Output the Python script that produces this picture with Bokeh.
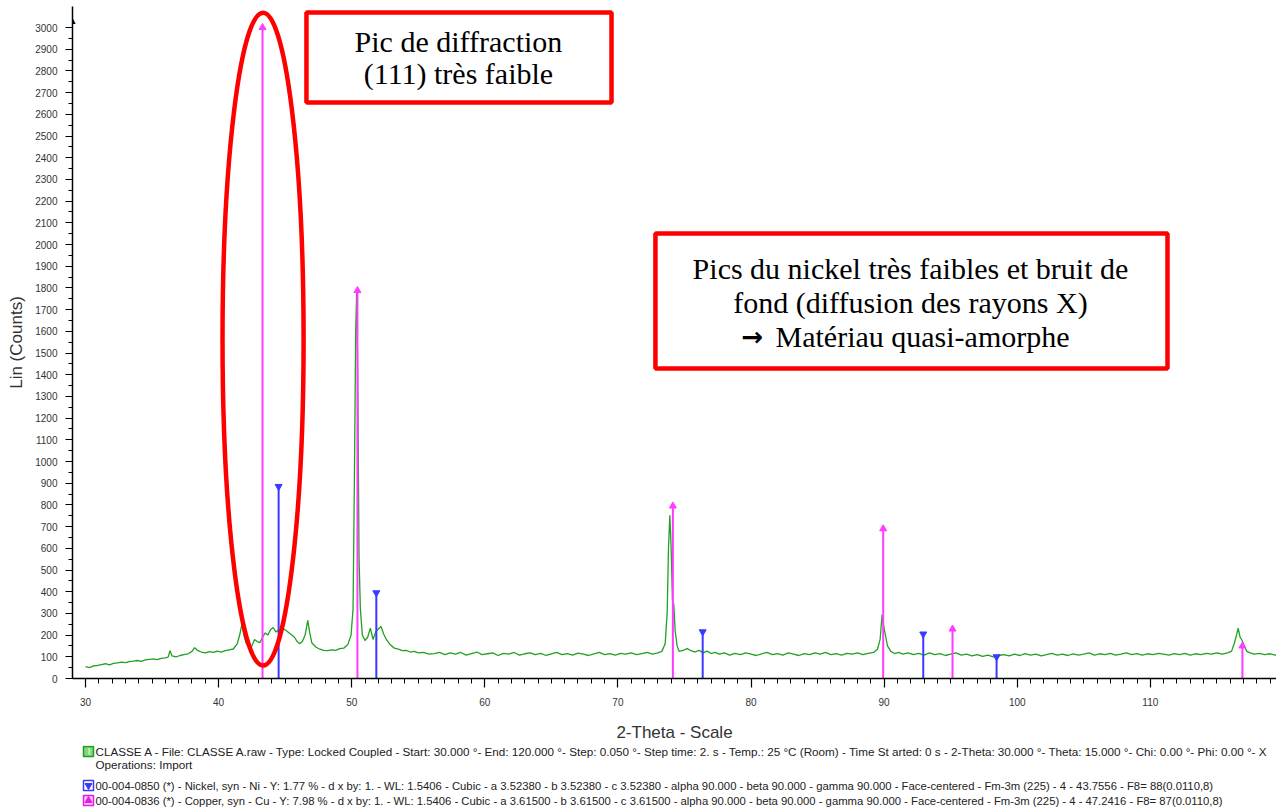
from bokeh.plotting import figure
from bokeh.layouts import column
from bokeh.models import Range1d, FixedTicker, Label
from bokeh.core.properties import value
from bokeh.embed import file_html
from bokeh.resources import INLINE

# ---------------- data ----------------
two_theta = [
    30.0, 30.3, 30.6, 30.9, 31.2, 31.5, 31.8, 32.1, 32.4, 32.7,
    33.0, 33.3, 33.6, 33.9, 34.2, 34.5, 34.8, 35.1, 35.4, 35.7,
    36.0, 36.2, 36.35, 36.5, 36.8, 37.1, 37.4, 37.7, 38.0, 38.2,
    38.4, 38.7, 39.0, 39.3, 39.6, 39.9, 40.2, 40.5, 40.8, 41.1,
    41.4, 41.6, 41.75, 41.9, 42.05, 42.3, 42.5, 42.7, 42.9, 43.1,
    43.3, 43.5, 43.7, 43.9, 44.1, 44.3, 44.5, 44.7, 44.9, 45.1,
    45.3, 45.5, 45.7, 45.9, 46.1, 46.3, 46.5, 46.7, 46.85, 47.0,
    47.3, 47.6, 47.9, 48.2, 48.5, 48.8, 49.1, 49.4, 49.7, 49.95,
    50.1, 50.2, 50.3, 50.38, 50.45, 50.55, 50.65, 50.8, 51.0, 51.2,
    51.4, 51.6, 51.8, 52.0, 52.2, 52.4, 52.6, 52.9, 53.2, 53.5,
    53.8, 54.1, 54.4, 54.7, 55.0, 55.4, 55.8, 56.2, 56.6, 57.0,
    57.4, 57.8, 58.2, 58.6, 59.0, 59.4, 59.8, 60.2, 60.6, 61.0,
    61.4, 61.8, 62.2, 62.6, 63.0, 63.4, 63.8, 64.2, 64.6, 65.0,
    65.4, 65.8, 66.2, 66.6, 67.0, 67.4, 67.8, 68.2, 68.6, 69.0,
    69.4, 69.8, 70.2, 70.6, 71.0, 71.4, 71.8, 72.2, 72.6, 73.0,
    73.3, 73.55, 73.7, 73.8, 73.9, 74.0, 74.1, 74.2, 74.3, 74.45,
    74.6, 74.9, 75.2, 75.5, 75.8, 76.1, 76.4, 76.7, 77.0, 77.3,
    77.6, 78.0, 78.4, 78.8, 79.2, 79.6, 80.0, 80.4, 80.8, 81.2,
    81.6, 82.0, 82.4, 82.8, 83.2, 83.6, 84.0, 84.4, 84.8, 85.2,
    85.6, 86.0, 86.4, 86.8, 87.2, 87.6, 88.0, 88.4, 88.8, 89.2,
    89.5, 89.7, 89.85, 90.0, 90.1, 90.25, 90.5, 90.8, 91.1, 91.4,
    91.8, 92.2, 92.6, 93.0, 93.4, 93.8, 94.2, 94.6, 95.0, 95.4,
    95.8, 96.2, 96.6, 97.0, 97.4, 97.8, 98.2, 98.6, 99.0, 99.4,
    99.8, 100.2, 100.6, 101.0, 101.4, 101.8, 102.2, 102.6, 103.0, 103.4,
    103.8, 104.2, 104.6, 105.0, 105.4, 105.8, 106.2, 106.6, 107.0, 107.4,
    107.8, 108.2, 108.6, 109.0, 109.4, 109.8, 110.2, 110.6, 111.0, 111.4,
    111.8, 112.2, 112.6, 113.0, 113.4, 113.8, 114.2, 114.6, 115.0, 115.4,
    115.8, 116.1, 116.3, 116.5, 116.6, 116.75, 116.9, 117.05, 117.25, 117.5,
    117.8, 118.2, 118.6, 119.0, 119.4, 119.8,
]
lin_counts = [
    55, 50, 58, 60, 64, 68, 63, 70, 72, 75,
    73, 78, 80, 83, 79, 86, 88, 90, 87, 93,
    95, 98, 128, 104, 100, 106, 110, 114, 125, 142,
    130, 122, 118, 124, 120, 126, 122, 128, 132, 136,
    160, 205, 252, 200, 165, 140, 150, 180, 170, 165,
    190, 210, 200, 225, 235, 215, 222, 218, 228, 220,
    210, 200, 190, 170, 160, 172, 200, 268, 210, 165,
    145, 135, 130, 128, 132, 130, 138, 140, 155, 200,
    320, 900, 1600, 1790, 1400, 560, 320, 200, 175, 190,
    232, 180, 215, 228, 240, 205, 180, 155, 140, 135,
    128, 130, 122, 125, 118, 120, 112, 115, 120, 110,
    118, 112, 120, 108, 115, 122, 110, 114, 118, 106,
    116, 112, 120, 108, 114, 118, 110, 116, 106, 113,
    120, 110, 115, 108, 117, 112, 106, 114, 120, 110,
    115, 108, 116, 112, 118, 110, 115, 120, 112, 118,
    125, 160, 300, 600, 752, 600, 360, 340, 220, 150,
    125, 130, 138, 128, 122, 130, 118, 126, 115, 120,
    112, 118, 108, 116, 110, 118, 112, 106, 114, 120,
    110, 115, 108, 118, 112, 106, 115, 110, 118, 112,
    120, 110, 115, 108, 116, 112, 118, 110, 116, 120,
    135, 180, 295, 230, 200, 150, 125, 115, 120, 112,
    118, 110, 116, 108, 118, 110, 115, 106, 112, 118,
    108, 112, 104, 110, 102, 108, 100, 106, 110, 104,
    112, 106, 115, 108, 112, 104, 110, 116, 108, 112,
    106, 114, 108, 112, 118, 108, 114, 110, 116, 108,
    112, 118, 110, 115, 108, 114, 110, 116, 112, 108,
    115, 110, 116, 108, 114, 110, 116, 112, 118, 112,
    118, 125, 160, 205, 232, 190, 175, 150, 125, 118,
    112, 116, 110, 114, 108, 112,
]
assert len(two_theta) == len(lin_counts)

# reference patterns (stick positions / heights)
copper_pos = [43.30, 50.43, 74.13, 89.93, 95.14, 116.92]
copper_height = [3000, 1788, 795, 690, 228, 150]
nickel_pos = [44.51, 51.85, 76.37, 92.94, 98.45]
nickel_height = [885, 395, 215, 205, 100]

x_major_ticks = [30, 40, 50, 60, 70, 80, 90, 100, 110, 120]
x_minor_ticks = list(range(29, 121))
y_major_ticks = list(range(0, 3001, 100))
y_minor_ticks = list(range(0, 3001, 50))

legend_scan = ("CLASSE A - File: CLASSE A.raw - Type: Locked Coupled - Start: 30.000 °- End: 120.000 °- "
               "Step: 0.050  °- Step time: 2. s - Temp.: 25 °C (Room) - Time St arted: 0 s - "
               "2-Theta: 30.000 °- Theta: 15.000 °-  Chi: 0.00 °- Phi: 0.00 °- X")
legend_ops = "Operations: Import"
legend_ni = ("00-004-0850 (*) - Nickel, syn - Ni - Y: 1.77 % - d x by: 1. - WL: 1.5406 - Cubic - "
             "a 3.52380 - b 3.52380 - c 3.52380 - alpha 90.000 - beta 90.000 - gamma 90.000 - "
             "Face-centered - Fm-3m (225) - 4 - 43.7556 - F8= 88(0.0110,8)")
legend_cu = ("00-004-0836 (*) - Copper, syn - Cu - Y: 7.98 % - d x by: 1. - WL: 1.5406 - Cubic - "
             "a 3.61500 - b 3.61500 - c 3.61500 - alpha 90.000 - beta 90.000 - gamma 90.000 - "
             "Face-centered - Fm-3m (225) - 4 - 47.2416 - F8= 87(0.0110,8)")

note1_lines = ["Pic de diffraction", "(111) très faible"]
note2_lines = ["Pics du nickel très faibles et bruit de",
               "fond (diffusion des rayons X)"]
note2_arrow = "→"
note2_last = "Matériau quasi-amorphe"

# ---------------- main figure ----------------
X_START, X_END = 29.023, 119.48
Y_START, Y_END = 0, 3097

GREEN = "#22a022"
CU = "#ff3cff"
NI = "#3a3aff"
RED = "#ff0000"
SERIF = value("Liberation Serif")

p = figure(width=1276, height=745, output_backend="svg", toolbar_location=None,
           x_range=Range1d(X_START, X_END), y_range=Range1d(Y_START, Y_END),
           min_border_left=72, min_border_right=0, min_border_top=6, min_border_bottom=67,
           background_fill_color="white", border_fill_color="white", outline_line_color=None,
           x_axis_label="2-Theta - Scale", y_axis_label="Lin (Counts)")
p.grid.visible = False

for ax in (p.xaxis[0], p.yaxis[0]):
    ax.axis_line_color = "black"
    ax.axis_line_width = 1.5
    ax.major_tick_line_color = "black"
    ax.minor_tick_line_color = "black"
    ax.major_tick_line_width = 1.2
    ax.minor_tick_line_width = 1
    ax.major_tick_in = 0
    ax.minor_tick_in = 0
    ax.major_label_text_font = "Liberation Sans"
    ax.major_label_text_font_size = "10px"
    ax.major_label_text_color = "#333333"
    ax.axis_label_text_font = "Liberation Sans"
    ax.axis_label_text_font_size = "17px"
    ax.axis_label_text_font_style = "normal"
    ax.axis_label_text_color = "#333333"

p.xaxis.ticker = FixedTicker(ticks=x_major_ticks, minor_ticks=x_minor_ticks)
p.yaxis.ticker = FixedTicker(ticks=y_major_ticks, minor_ticks=y_minor_ticks)
p.xaxis.major_tick_out = 9
p.xaxis.minor_tick_out = 5
p.yaxis.major_tick_out = 7
p.yaxis.minor_tick_out = 4
p.xaxis.major_label_standoff = 10
p.xaxis.axis_label_standoff = 14
p.yaxis.major_label_standoff = 8
p.yaxis.axis_label_standoff = 6

# measured scan
p.line(two_theta, lin_counts, line_color=GREEN, line_width=1.3)

# reference sticks
p.segment(x0=copper_pos, y0=[0] * len(copper_pos), x1=copper_pos, y1=copper_height,
          line_color=CU, line_width=2)
p.scatter(copper_pos, copper_height, marker="triangle", size=7, fill_color=CU, line_color=CU)
p.segment(x0=nickel_pos, y0=[0] * len(nickel_pos), x1=nickel_pos, y1=nickel_height,
          line_color=NI, line_width=2)
p.scatter(nickel_pos, nickel_height, marker="inverted_triangle", size=7, fill_color=NI, line_color=NI)

# y-axis arrow head
p.add_layout(Label(x=X_START, y=3005, text="▲", text_align="center", text_baseline="bottom",
                   text_font_size="9px", text_color="black", x_offset=0.5))

# red annotations
p.ellipse(x=[43.34], y=[1564], width=[6.09], height=[3009], fill_color=None,
          line_color=RED, line_width=4.5)
p.quad(left=[46.60], right=[69.52], bottom=[2654], top=[3069], fill_color="white",
       line_color=RED, line_width=4.5)
p.quad(left=[72.82], right=[111.29], bottom=[1429], top=[2051], fill_color="white",
       line_color=RED, line_width=4.5)
p.text(x=[58.02, 58.02], y=[2935, 2788], text=note1_lines, text_align="center",
       text_baseline="middle", text_font=SERIF, text_font_size="30px", text_color="black")
p.text(x=[91.98, 91.98], y=[1889, 1733], text=note2_lines, text_align="center",
       text_baseline="middle", text_font=SERIF, text_font_size="30px", text_color="black")
p.text(x=[80.11], y=[1576], text=[note2_arrow], text_align="center", text_baseline="middle",
       text_font=value("DejaVu Sans"), text_font_size="26px", text_font_style="bold",
       text_color="black")
p.text(x=[81.84], y=[1576], text=[note2_last], text_align="left", text_baseline="middle",
       text_font=SERIF, text_font_size="30px", text_color="black")

# ---------------- legend strip (page pixels; frame aligned with main frame at x=72) ----------------
q = figure(width=1276, height=62, output_backend="svg", toolbar_location=None,
           x_range=Range1d(72, 1276), y_range=Range1d(0, 62),
           min_border_left=72, min_border_right=0, min_border_top=0, min_border_bottom=0,
           outline_line_color=None, background_fill_color="white",
           border_fill_color="white")
q.axis.visible = False
q.grid.visible = False

q.text(x=[95, 95], y=[56, 43], text=[legend_scan, legend_ops], text_font=value("Liberation Sans"),
       text_font_size="11.7px", text_color="#222222", text_baseline="middle", text_align="left")
q.text(x=[95, 95], y=[22, 7], text=[legend_ni, legend_cu], text_font=value("Liberation Sans"),
       text_font_size="11.3px", text_color="#222222", text_baseline="middle", text_align="left")

icon_y = [56, 22, 7]
icon_line = ["#1e9e1e", NI, "#e020e0"]
icon_fill = ["#7fd67f", "white", "#ffc8ff"]
q.rect(x=[88] * 3, y=icon_y, width=10, height=10, fill_color=icon_fill, line_color=icon_line,
       line_width=1.5)
q.scatter(x=[88], y=[22], marker="inverted_triangle", size=7, fill_color=NI, line_color=NI)
q.scatter(x=[88], y=[7], marker="triangle", size=7, fill_color="#e020e0", line_color="#e020e0")
q.text(x=[88], y=[56], text=["⌇"], text_font_size="9px", text_color="white",
       text_align="center", text_baseline="middle")

layout = column(p, q, spacing=0)
open("out.html", "w").write(file_html(layout, INLINE))
